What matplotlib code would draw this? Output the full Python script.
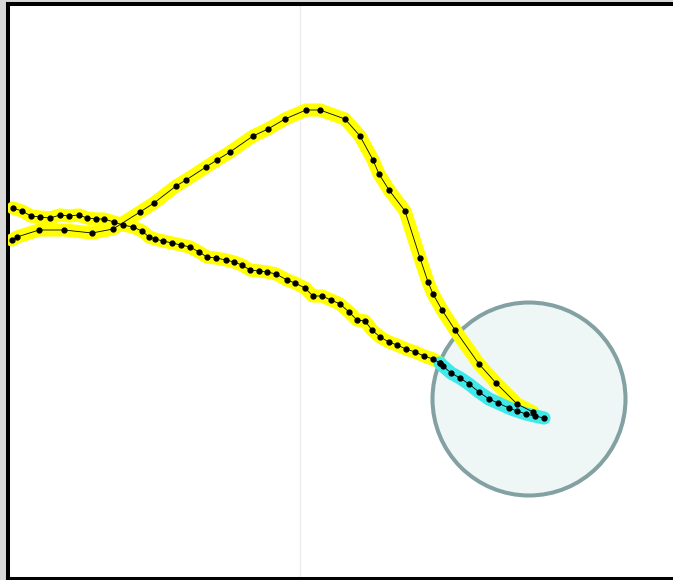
import matplotlib
matplotlib.use("Agg")
from matplotlib import pyplot as plt
from matplotlib.patches import Circle

# path coordinates (pixel units, y downwards)
track_a_x = [12, 17, 39, 64, 92, 113, 140, 154, 176, 186, 206, 217, 230, 253, 268, 285,
             306, 320, 345, 360, 373, 379, 389, 405, 420, 428, 433, 442, 455, 479, 496, 517, 533]
track_a_y = [240, 237, 230, 230, 233, 229, 212, 203, 186, 180, 167, 160, 152, 136, 129, 119,
             110, 110, 119, 136, 160, 174, 190, 211, 258, 282, 294, 310, 330, 364, 383, 404, 412]

track_b_x = [13, 22, 31, 40, 50, 60, 69, 79, 87, 96, 104, 114, 123, 133, 142, 149, 155, 163,
             172, 181, 190, 199, 207, 216, 226, 234, 242, 250, 259, 267, 276, 287, 295, 305,
             313, 322, 331, 340, 349, 357, 365, 372, 380, 389, 397, 406, 415, 424, 433, 440]
track_b_y = [208, 211, 216, 217, 218, 215, 216, 215, 218, 219, 219, 222, 225, 227, 231, 237, 239, 241,
             243, 245, 247, 252, 257, 258, 260, 262, 265, 270, 271, 272, 274, 280, 283, 288,
             296, 296, 300, 304, 312, 320, 321, 330, 337, 342, 345, 349, 352, 356, 359, 363]

sel_x = [440, 443, 451, 460, 469, 479, 489, 498, 509, 517, 526, 535, 544]
sel_y = [363, 366, 373, 378, 384, 392, 399, 403, 408, 411, 414, 416, 418]

zone_center = (529, 399)
zone_radius = 96.5
divider_x = 300

fig = plt.figure(figsize=(6.73, 5.80), dpi=100)
fig.patch.set_facecolor("#d9d9d9")
ax = fig.add_axes([8 / 673, 1 / 580, 1 - 8 / 673, 575 / 580])
ax.set_facecolor("white")
ax.set_xlim(8, 673)
ax.set_ylim(579, 4)
ax.set_xticks([])
ax.set_yticks([])
for side in ["left", "top", "bottom"]:
    ax.spines[side].set_linewidth(2.9)
    ax.spines[side].set_color("black")
ax.spines["right"].set_visible(False)

ax.axvline(divider_x, color="#ececec", lw=0.9, zorder=1)

ax.add_patch(Circle(zone_center, zone_radius, facecolor="#eef6f6",
                    edgecolor="#83a0a2", lw=2.9, zorder=2))

glow = dict(solid_capstyle="round", solid_joinstyle="round", zorder=3)
ax.plot(track_a_x, track_a_y, color="#ffff00", lw=9.5, **glow)
ax.plot(track_b_x, track_b_y, color="#ffff00", lw=9.5, **glow)
ax.plot(sel_x, sel_y, color="#3fe9e9", lw=9.5, **glow)

for xs, ys in [(track_a_x, track_a_y), (track_b_x, track_b_y), (sel_x, sel_y)]:
    ax.plot(xs, ys, color="black", lw=0.6, marker="o", ms=3.5, zorder=4)

fig.savefig("out.png", dpi=100, facecolor=fig.get_facecolor())
